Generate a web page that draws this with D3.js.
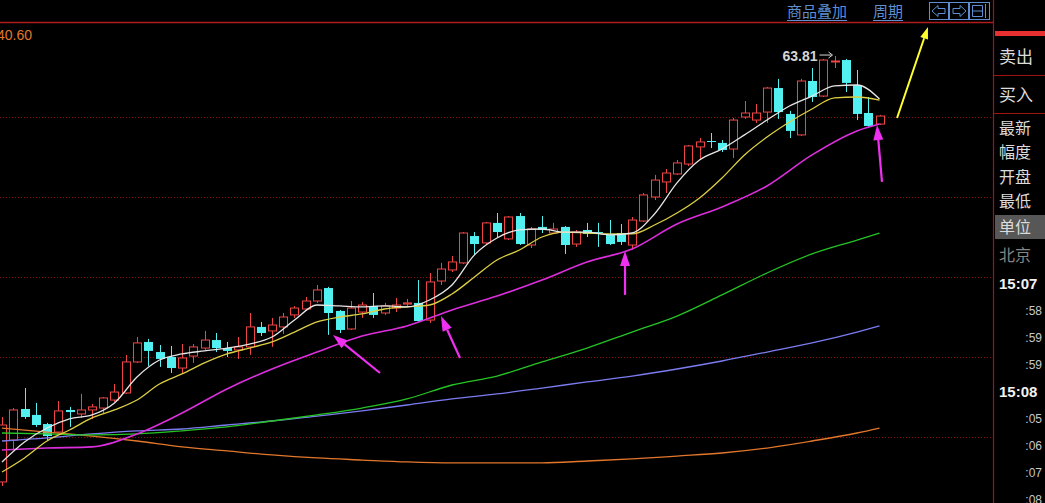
<!DOCTYPE html>
<html><head><meta charset="utf-8">
<script src="https://cdn.jsdelivr.net/npm/d3@7"></script>
<style>html,body{margin:0;padding:0;background:#000;overflow:hidden}</style>
</head><body><svg id="c" width="1045" height="503"></svg>
<script>
// ---- candle data (daily OHLC) ----
const opens = [37.19,39.81,41.75,41.38,40.81,40.31,41.69,41.44,41.69,41.81,
42.31,42.75,44.69,45.94,45.31,45.00,44.31,45.06,45.56,46.06,
45.56,45.44,45.63,46.88,46.63,46.88,47.63,48.00,48.50,49.31,
47.88,46.75,47.81,48.19,47.75,48.06,48.31,48.38,47.31,49.75,
50.44,50.88,52.56,52.13,53.38,52.38,53.81,52.00,53.13,52.75,
53.13,52.06,52.94,52.81,52.63,52.75,52.00,53.50,55.00,55.94,
56.44,57.06,58.13,58.50,58.38,58.00,60.00,59.81,60.31,61.81,
60.19,58.88,62.25,61.31,63.44,63.56,62.00,60.25,59.56];
const highs = [41.25,41.81,43.06,42.13,40.88,42.25,41.88,42.69,42.06,42.50,
43.31,45.13,46.25,46.13,45.75,45.69,45.81,45.81,46.63,46.50,
45.94,46.25,47.75,47.19,47.44,47.75,48.19,48.75,49.50,49.38,
47.94,48.50,48.44,49.00,48.38,48.69,48.63,49.81,50.25,50.88,
51.31,52.81,52.81,53.44,54.00,53.81,54.00,53.13,53.81,53.38,
53.19,52.94,53.38,53.38,53.56,53.31,53.75,55.25,56.38,56.75,
57.31,58.25,58.69,59.00,58.56,59.94,61.00,60.81,61.88,62.38,
60.38,62.38,63.06,63.63,63.81,63.63,62.94,61.25,60.13];
const lows = [36.94,39.19,41.13,40.63,39.81,40.25,40.63,41.19,41.13,41.50,
42.19,42.70,44.63,44.44,44.38,44.00,43.94,44.63,45.44,45.31,
45.00,44.88,45.13,46.31,45.63,46.44,47.44,47.88,48.38,46.38,
46.50,46.69,47.44,47.44,47.63,47.81,48.13,47.19,47.13,49.50,
50.31,50.81,51.38,52.00,52.50,52.31,52.00,51.81,52.75,52.69,
51.44,51.88,52.50,51.88,52.00,52.00,51.69,53.44,54.81,55.25,
56.38,56.94,57.31,58.06,57.81,57.44,59.88,59.63,59.63,59.88,
58.69,58.81,60.94,61.25,63.06,61.56,59.81,59.38,59.50];
const closes = [40.75,41.69,41.25,40.75,40.06,41.63,41.56,41.69,41.88,42.44,
42.81,44.69,45.88,45.38,44.88,44.31,44.94,45.63,46.06,45.56,
45.38,45.63,46.88,46.50,47.00,47.50,48.06,48.50,49.19,47.75,
46.69,48.06,48.25,47.63,48.19,48.25,48.38,47.25,49.69,50.50,
50.94,52.75,52.06,53.38,52.81,53.75,52.06,53.00,52.94,53.00,
52.00,52.81,52.69,52.75,52.06,52.19,53.56,55.13,56.06,56.50,
57.13,58.19,58.44,58.44,57.94,59.81,60.25,60.25,61.81,60.31,
59.13,62.25,61.25,63.56,63.50,62.13,60.19,59.44,60.06];

// ---- moving average lines ----
const fineIdx = d3.range(0, 79, 2);            // every 2nd candle
const ma5 = [38.44,39.69,40.56,41.13,41.38,42.13,43.75,44.81,45.19,45.38,
45.56,45.81,46.25,47.31,48.25,48.19,48.13,48.19,48.13,48.56,
49.50,51.38,52.44,52.94,53.00,52.81,52.81,52.63,52.75,53.94,
55.88,57.31,58.00,58.88,59.81,60.69,61.31,61.94,62.00,61.13];
const ma10 = [37.81,38.69,39.75,40.44,41.19,41.69,42.31,43.31,43.94,44.63,
45.19,45.56,45.94,46.56,47.19,47.50,47.69,48.00,48.13,48.25,
48.94,50.00,51.06,51.69,52.50,52.81,52.75,52.69,52.69,53.25,
54.00,54.94,56.19,57.63,58.75,59.69,60.50,61.19,61.25,61.06];
const coarseIdx = [0,4,8,12,16,20,24,28,32,36,40,44,48,52,56,60,64,68,72,76,78];
const ma20 = [39.19,39.31,39.38,40.19,41.50,43.00,44.25,45.31,46.31,46.94,47.94,
48.81,49.81,50.94,51.75,53.31,54.38,55.69,57.63,59.13,59.56];
const ma60 = [40.25,40.19,40.13,40.19,40.38,40.63,41.00,41.38,41.81,42.38,43.25,
43.81,44.69,45.56,46.56,47.56,48.88,50.25,51.44,52.31,52.75];
const ma120 = [39.75,39.94,40.19,40.38,40.50,40.75,41.00,41.31,41.63,42.00,42.38,
42.69,43.06,43.44,43.81,44.25,44.75,45.31,45.88,46.56,46.94];
const ma250 = [40.56,40.31,40.06,39.75,39.38,39.13,38.88,38.69,38.56,38.44,38.38,
38.38,38.38,38.50,38.63,38.81,39.00,39.31,39.75,40.25,40.56];

const gridPrices = [60, 55, 50, 45, 40];
const highLabel = "63.81";
const cornerLabel = "40.60";
const menuItems = ["商品叠加", "周期"];
const panelLabels = ["卖出","买入","最新","幅度","开盘","最低","单位","北京"];
const timeLabels = ["15:07",":58",":59",":59","15:08",":05",":06",":07",":08"];
// annotation arrows: [tailIdx, tailPrice, headIdx, headPrice]
const pinkArrows = [[33.6,44.0,29.42,46.38],[40.71,44.94,39.02,47.56],[55.38,48.88,55.38,51.63],[78.22,55.94,77.78,59.5]];
const yellowArrow = [79.56,59.94,82.31,65.63];

// ---- drawing ----
const svg = d3.select('#c');
svg.append('rect').attr('width',1045).attr('height',503).attr('fill','#000');
const x = d3.scaleLinear().domain([0,78]).range([2,879.5]);
const y = d3.scaleLinear().domain([35.875,67.3125]).range([503,0]);

svg.append('defs').append('clipPath').attr('id','clip')
  .append('rect').attr('x',0).attr('y',23).attr('width',992).attr('height',480);
const plot = svg.append('g').attr('clip-path','url(#clip)');

// grid
plot.selectAll('line.grid').data(gridPrices).join('line')
  .attr('x1',0).attr('x2',992)
  .attr('y1',d=>Math.round(y(d))+0.5).attr('y2',d=>Math.round(y(d))+0.5)
  .attr('stroke','#8a0a0a').attr('stroke-dasharray','1,2').attr('stroke-width',1);

// top border & right divider
svg.append('line').attr('x1',0).attr('x2',993).attr('y1',22.5).attr('y2',22.5)
  .attr('stroke','#b01c1c').attr('stroke-width',1.3);
svg.append('line').attr('x1',993.5).attr('x2',993.5).attr('y1',0).attr('y2',503)
  .attr('stroke','#a01414').attr('stroke-width',1.2);

// candles
const candles = d3.range(opens.length).map(i=>({i,o:opens[i],h:highs[i],l:lows[i],c:closes[i]}));
const RED = '#f04646', CYAN = '#52f0f0';
const cg = plot.append('g');
candles.forEach(d=>{
  const cx = Math.round(x(d.i)) + 0.5;
  const up = d.c >= d.o;
  const top = y(Math.max(d.o,d.c)), bot = y(Math.min(d.o,d.c));
  const bh = Math.max(1, bot-top);
  const col = up ? RED : CYAN;
  if (up) {
    cg.append('line').attr('x1',cx).attr('x2',cx).attr('y1',y(d.h)).attr('y2',top).attr('stroke',col).attr('stroke-width',1);
    cg.append('line').attr('x1',cx).attr('x2',cx).attr('y1',top+bh).attr('y2',y(d.l)).attr('stroke',col).attr('stroke-width',1);
    cg.append('rect').attr('x',cx-4).attr('y',top).attr('width',8).attr('height',bh)
      .attr('fill','#000').attr('stroke',col).attr('stroke-width',1);
  } else {
    cg.append('line').attr('x1',cx).attr('x2',cx).attr('y1',y(d.h)).attr('y2',y(d.l)).attr('stroke',col).attr('stroke-width',1);
    cg.append('rect').attr('x',cx-4.5).attr('y',top).attr('width',9).attr('height',bh).attr('fill',col);
  }
});

// MA lines
const line = d3.line().x(d=>x(d[0])).y(d=>y(d[1])).curve(d3.curveMonotoneX);
const series = [
  [coarseIdx, ma250, '#e2772c', 1.3],
  [coarseIdx, ma120, '#7c7cf2', 1.3],
  [coarseIdx, ma60, '#25c425', 1.3],
  [coarseIdx, ma20, '#dc2edc', 1.6],
  [fineIdx, ma10, '#dccf44', 1.3],
  [fineIdx, ma5, '#e6e6e6', 1.3]
];
series.forEach(([idx, vals, col, w])=>{
  plot.append('path').datum(idx.map((k,j)=>[k, vals[j]]))
    .attr('d', line).attr('fill','none').attr('stroke',col).attr('stroke-width',w);
});

// arrows
function arrow(t, col, hl, hw, sw){
  const x1=x(t[0]), y1=y(t[1]), x2=x(t[2]), y2=y(t[3]);
  const a = Math.atan2(y2-y1, x2-x1);
  const bx = x2 - hl*Math.cos(a), by = y2 - hl*Math.sin(a);
  svg.append('line').attr('x1',x1).attr('y1',y1).attr('x2',bx).attr('y2',by)
    .attr('stroke',col).attr('stroke-width',sw);
  const px = -Math.sin(a)*hw/2, py = Math.cos(a)*hw/2;
  svg.append('path').attr('d',`M${x2},${y2}L${bx+px},${by+py}L${bx-px},${by-py}Z`).attr('fill',col);
}
pinkArrows.forEach(t=>arrow(t,'#f030f0',15,10,2.2));
arrow(yellowArrow,'#ffff30',12,8,2);

// high label
const hi = d3.maxIndex(highs);
const hx = x(hi), hy = y(highs[hi]);
svg.append('text').attr('x',hx-17).attr('y',hy+5).attr('text-anchor','end')
  .attr('font-family','Liberation Sans, Arial, sans-serif').attr('font-weight','bold')
  .attr('font-size',14).attr('fill','#d6d6d6').text(highLabel);
svg.append('line').attr('x1',hx-15).attr('x2',hx-3).attr('y1',hy-1).attr('y2',hy-1).attr('stroke','#d6d6d6').attr('stroke-width',1);
svg.append('path').attr('d',`M${hx-2},${hy-1}L${hx-6},${hy-4}M${hx-2},${hy-1}L${hx-6},${hy+2}`).attr('stroke','#d6d6d6').attr('fill','none');

// corner label
svg.append('text').attr('x',-3).attr('y',40).attr('font-family','Liberation Sans, Arial, sans-serif')
  .attr('font-size',14).attr('fill','#e0782c').text(cornerLabel);

// top menu
const MENU = '#5f8fd2';
const menuX = [787, 873];
menuItems.forEach((t,k)=>{
  const tx = svg.append('text').attr('x',menuX[k]).attr('y',17).attr('font-family','Noto Sans CJK SC')
    .attr('font-size',15).attr('fill',MENU).text(t);
  const w = tx.node().getComputedTextLength();
  svg.append('line').attr('x1',menuX[k]).attr('x2',menuX[k]+w).attr('y1',20.5).attr('y2',20.5).attr('stroke',MENU);
});
[[929.5,19],[949.5,19],[969.5,20]].forEach(([bx,bw])=>{
  svg.append('rect').attr('x',bx).attr('y',2.5).attr('width',bw).attr('height',17).attr('fill','none').attr('stroke',MENU);
});
svg.append('path').attr('d','M932,11L938,5.5L938,8.5L945,8.5L945,13.5L938,13.5L938,16.5Z').attr('fill','none').attr('stroke',MENU);
svg.append('path').attr('d','M966,11L960,5.5L960,8.5L953,8.5L953,13.5L960,13.5L960,16.5Z').attr('fill','none').attr('stroke',MENU);
svg.append('path').attr('d','M972.5,5.5H982.5V16.5H972.5ZM972.5,11H982.5M985.5,4V18').attr('fill','none').attr('stroke',MENU).attr('stroke-dasharray',null);

// right panel
svg.append('rect').attr('x',995).attr('y',31).attr('width',50).attr('height',5).attr('fill','#e83030');
[75.5,113.5].forEach(v=>svg.append('line').attr('x1',994).attr('x2',1045).attr('y1',v).attr('y2',v).attr('stroke','#a01414'));
svg.append('rect').attr('x',995).attr('y',215).attr('width',50).attr('height',24).attr('fill','#575757');
const labelY = [63,101,134,158,183,207,233,261];
panelLabels.forEach((t,k)=>{
  svg.append('text').attr('x',999).attr('y',labelY[k]).attr('font-family','Noto Sans CJK SC')
    .attr('font-size', k<2 ? 17 : 16).attr('fill', k===7 ? '#858585' : '#dcdcdc').text(t);
});
const timeY = [289,315,342,369,397,423,450,477,504];
timeLabels.forEach((t,k)=>{
  const big = t.length > 3;
  svg.append('text').attr('x', big ? 999 : 1042).attr('y',timeY[k])
    .attr('text-anchor', big ? 'start' : 'end')
    .attr('font-family','Liberation Sans, Arial, sans-serif')
    .attr('font-weight', big ? 'bold' : 'normal')
    .attr('font-size', big ? 15 : 12).attr('fill', big ? '#f2f2f2' : '#c8c8c8').text(t);
});
</script></body></html>
